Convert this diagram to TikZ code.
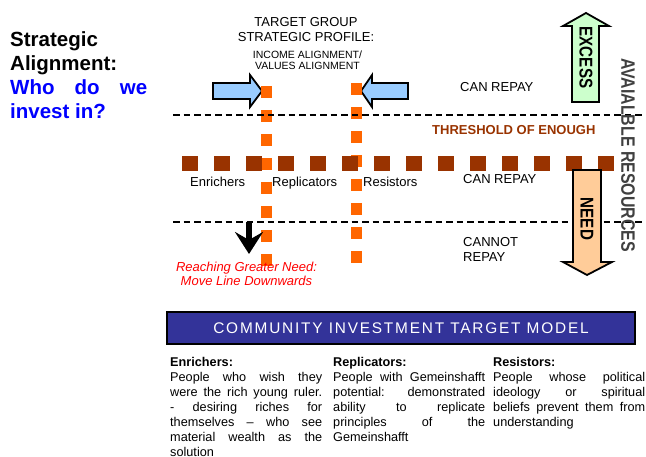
\documentclass[tikz,border=0pt]{standalone}
\usepackage{fontspec}
\setmainfont{Liberation Sans}
\newfontfamily\narrowsans[FakeStretch=0.82]{Liberation Sans}
\newfontfamily\widesans[LetterSpace=11.7]{Liberation Sans}
\usetikzlibrary{arrows.meta}

\definecolor{pathblue}{HTML}{99CCFF}
\definecolor{excessgreen}{HTML}{CCFFCC}
\definecolor{needorange}{HTML}{FFCC99}
\definecolor{linkorange}{HTML}{FF6600}
\definecolor{enoughbrown}{HTML}{993300}
\definecolor{modelblue}{HTML}{333399}
\definecolor{resgray}{HTML}{404040}
\newcommand{\pxfont}[2]{\fontsize{#1}{#2}\selectfont}
\newcommand{\loosepar}{\tolerance 10000 }

\begin{document}
\begin{tikzpicture}[x=1pt, y=-1pt,
  txt/.style={inner sep=0pt, font=\pxfont{13}{15}},
  vtxt/.style={inner sep=0pt, rotate=-90, font=\narrowsans\pxfont{18.5}{20}\bfseries},
  blockarrow/.style={draw=black, line width=1.8pt, line join=miter},
  level/.style={line width=1.3pt, dash pattern=on 6.5pt off 4pt},
  column/.style={anchor=north west, inner sep=0pt, text width=152pt, align=justify, font=\pxfont{12.7}{15}\loosepar}]
\useasboundingbox (0,0) rectangle (646,457);
\node[inner sep=0pt, anchor=north west, align=left, font=\pxfont{20.5}{24}\bfseries] (title) at (10,31.3) {Strategic\\Alignment:\\\color{blue}\makebox[137pt][s]{Who do we}\\\color{blue}invest in?};
\node[txt, anchor=north, align=center] (profile) at (306,17) {TARGET GROUP\\STRATEGIC PROFILE:};
\node[inner sep=0pt, anchor=north, align=center, font=\pxfont{10.5}{11}] (alignment) at (307.5,50.5) {INCOME ALIGNMENT/\\VALUES ALIGNMENT};
\draw[blockarrow, fill=pathblue] (213,83) -- (250,83) -- (250,75) -- (262,91) -- (250,107) -- (250,99) -- (213,99) -- cycle;
\draw[blockarrow, fill=pathblue] (408,83) -- (372,83) -- (372,75) -- (361,91) -- (372,107) -- (372,99) -- (408,99) -- cycle;
\draw[linkorange, line width=11.5pt, dash pattern=on 12pt off 12pt] (266.5,86) -- (266.5,266);
\draw[linkorange, line width=11.5pt, dash pattern=on 12pt off 12pt] (356.5,83) -- (356.5,263);
\draw[enoughbrown, line width=15pt, dash pattern=on 16pt off 16pt] (182,164) -- (614,164);
\draw[level] (173,115) -- (642,115);
\draw[level] (173,222) -- (642,222);
\node[inner sep=0pt, rotate=-90, text=resgray, font=\narrowsans\pxfont{19.4}{20}\bfseries] (resources) at (628,155) {AVAIALBLE RESOURCES};
\draw[blockarrow, fill=excessgreen] (572,102) -- (572,26) -- (563,26) -- (586,13) -- (609,26) -- (599,26) -- (599,102) -- cycle;
\node[vtxt] (excess) at (586,57.5) {EXCESS};
\draw[blockarrow, fill=needorange] (573,170) -- (601,170) -- (601,262) -- (612,262) -- (587,275) -- (563,262) -- (573,262) -- cycle;
\node[vtxt] (need) at (587,219) {NEED};
\node[txt, anchor=base west] (repaytop) at (460,92) {CAN REPAY};
\node[txt, anchor=base west, text=enoughbrown, font=\pxfont{13}{15}\bfseries] (enough) at (432,135) {THRESHOLD OF ENOUGH};
\node[txt, anchor=base west] (repaymid) at (463,184) {CAN REPAY};
\node[txt, anchor=north west, align=left] (cannot) at (463,237) {CANNOT\\REPAY};
\node[txt, anchor=base west] (enrichers) at (190,187) {Enrichers};
\node[txt, anchor=base west] (replicators) at (272,187) {Replicators};
\node[txt, anchor=base west] (resistors) at (363,187) {Resistors};
\coordinate (movefrom) at (249,222);
\coordinate (moveto) at (249,254);
\draw[line width=5.5pt, -{Stealth[length=22pt, width=28pt, inset=8pt]}] (movefrom) -- (moveto);
\node[txt, anchor=north, align=center, text=red, font=\pxfont{13}{14}\itshape] (reaching) at (246.5,262) {Reaching Greater Need:\\Move Line Downwards};
\node[draw=black, line width=1.5pt, fill=modelblue, minimum width=468pt, minimum height=32pt, inner sep=0pt, text=white, font=\widesans\pxfont{15.4}{17}] (model) at (401,328) {COMMUNITY INVESTMENT TARGET MODEL};
\node[column] (enrichcol) at (170,356.7) {\textbf{Enrichers:}\\People who wish they\linebreak were the rich young ruler.\linebreak - desiring riches for\linebreak themselves – who see\linebreak material wealth as the\linebreak solution};
\node[column] (replicol) at (333,356.7) {\textbf{Replicators:}\\People with Gemeinshafft\linebreak potential: demonstrated\linebreak ability to replicate\linebreak principles of the\linebreak Gemeinshafft};
\node[column] (resistcol) at (493,356.7) {\textbf{Resistors:}\\People whose political\linebreak ideology or spiritual\linebreak beliefs prevent them from\linebreak understanding};
\end{tikzpicture}
\end{document}
